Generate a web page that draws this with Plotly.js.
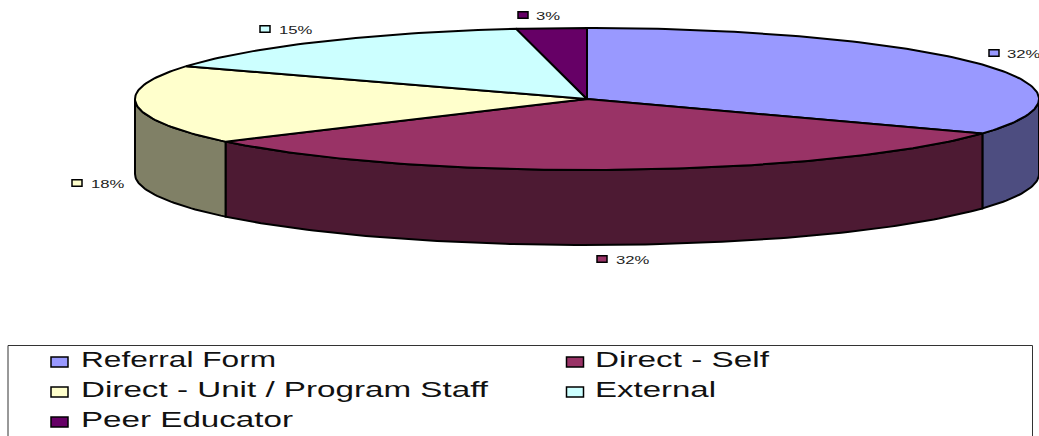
<!DOCTYPE html>
<html>
<head>
<meta charset="utf-8">
<script src="https://cdn.plot.ly/plotly-3.0.1.min.js"></script>
<style>html,body{margin:0;padding:0;background:#fff}#chart{width:1039px;height:436px}</style>
</head>
<body>
<div id="chart"></div>
<script>
// Data
const categories = ['Referral Form', 'Direct - Self', 'Direct - Unit / Program Staff', 'External', 'Peer Educator'];
const shares = [33.05, 31.7, 17.9, 14.85, 2.5];      // slice sizes
const percentLabels = ['32%', '32%', '18%', '15%', '3%'];
const topColors = ['#9999FF', '#993366', '#FFFFCC', '#CCFFFF', '#660066'];
const sideColors = ['#4D4D80', '#4D1A33', '#808066', '#668080', '#330033'];

// Layout of the drawing
const cx = 587, cy = 99, rx = 452, ry = 71, depth = 75;
const labelMarkX = [994, 602, 77, 265, 523];
const labelMarkY = [53, 259, 183, 29, 15];
const labelTextX = [1005, 614, 89, 277, 534];
const labelTextY = [54, 260, 184, 30, 16];
const legendMarkX = [59.5, 575, 59.5, 575, 59.5];
const legendMarkY = [362, 362, 392, 392, 422];
const legendTextX = [79, 593, 79, 593, 79];
const legendTextY = [359, 359, 389, 389, 419];
const legendTextWidth = [195, 174, 407, 121, 212];

const px = a => cx + rx * Math.sin(a * Math.PI / 180);
const py = (a, d) => cy - ry * Math.cos(a * Math.PI / 180) + d;
function arc(a0, a1, d) {
  const out = [];
  const n = Math.max(2, Math.ceil(Math.abs(a1 - a0)));
  for (let i = 0; i <= n; i++) {
    const a = a0 + (a1 - a0) * i / n;
    out.push([px(a), py(a, d)]);
  }
  return out;
}
const total = shares.reduce((s, v) => s + v, 0);
let acc = 0;
const spans = shares.map(v => { const a0 = acc; acc += v / total * 360; return [a0, acc]; });

const traces = [];
const poly = (pts, fill) => traces.push({
  type: 'scatter', mode: 'lines', x: pts.map(p => p[0]), y: pts.map(p => p[1]),
  fill: 'toself', fillcolor: fill, line: {color: '#000', width: 2},
  hoverinfo: 'skip', showlegend: false
});
// side walls (only the front half, 90..270 degrees, is visible)
spans.forEach(([a0, a1], i) => {
  const s = Math.max(a0, 90), e = Math.min(a1, 270);
  if (e <= s) return;
  const pts = arc(s, e, 0).concat(arc(e, s, depth));
  pts.push(pts[0]);
  poly(pts, sideColors[i]);
});
// top faces
spans.forEach(([a0, a1], i) => {
  const pts = [[cx, cy]].concat(arc(a0, a1, 0));
  pts.push([cx, cy]);
  poly(pts, topColors[i]);
});

const keyRect = (x, y, w, h, color) => ({
  type: 'rect', xref: 'x', yref: 'y', x0: x - w / 2, x1: x + w / 2, y0: y - h / 2, y1: y + h / 2,
  fillcolor: color, line: {color: '#000', width: 1.5}, layer: 'above'
});

const annotations = [];
percentLabels.forEach((t, i) => annotations.push({
  x: labelTextX[i], y: labelTextY[i], xref: 'x', yref: 'y', text: t, showarrow: false,
  xanchor: 'left', yanchor: 'middle', font: {family: 'Liberation Sans, Arial, sans-serif', size: 11.5, color: '#222'}
}));
categories.forEach((t, i) => annotations.push({
  x: legendTextX[i], y: legendTextY[i], xref: 'x', yref: 'y', text: t, showarrow: false,
  xanchor: 'left', yanchor: 'middle', font: {family: 'Liberation Sans, Arial, sans-serif', size: 22, color: '#111'}
}));

const layout = {
  width: 1039, height: 436, margin: {l: 0, r: 0, t: 0, b: 0},
  paper_bgcolor: '#fff', plot_bgcolor: '#fff', showlegend: false,
  xaxis: {range: [0, 1039], visible: false, fixedrange: true},
  yaxis: {range: [436, 0], visible: false, fixedrange: true},
  annotations,
  shapes: [{type: 'rect', xref: 'x', yref: 'y', x0: 8, x1: 1032.5, y0: 345.5, y1: 445,
            line: {color: '#333', width: 1}, fillcolor: 'rgba(0,0,0,0)', layer: 'below'}]
    .concat(labelMarkX.map((x, i) => keyRect(x, labelMarkY[i], 10, 6.5, topColors[i])))
    .concat(legendMarkX.map((x, i) => keyRect(x, legendMarkY[i], 17, 10, topColors[i])))
};
Plotly.newPlot('chart', traces, layout, {displayModeBar: false, staticPlot: true}).then(gd => {
  // the reference's lettering is stretched sideways
  gd.querySelectorAll('.annotation-text').forEach(el => {
    const k = categories.indexOf(el.textContent);
    const box = el.getBBox();
    const len = el.getComputedTextLength();
    el.setAttribute('text-anchor', 'start');
    el.setAttribute('x', box.x);
    el.setAttribute('lengthAdjust', 'spacingAndGlyphs');
    el.setAttribute('textLength', k >= 0 ? legendTextWidth[k] : len * 1.45);
  });
});
</script>
</body>
</html>
